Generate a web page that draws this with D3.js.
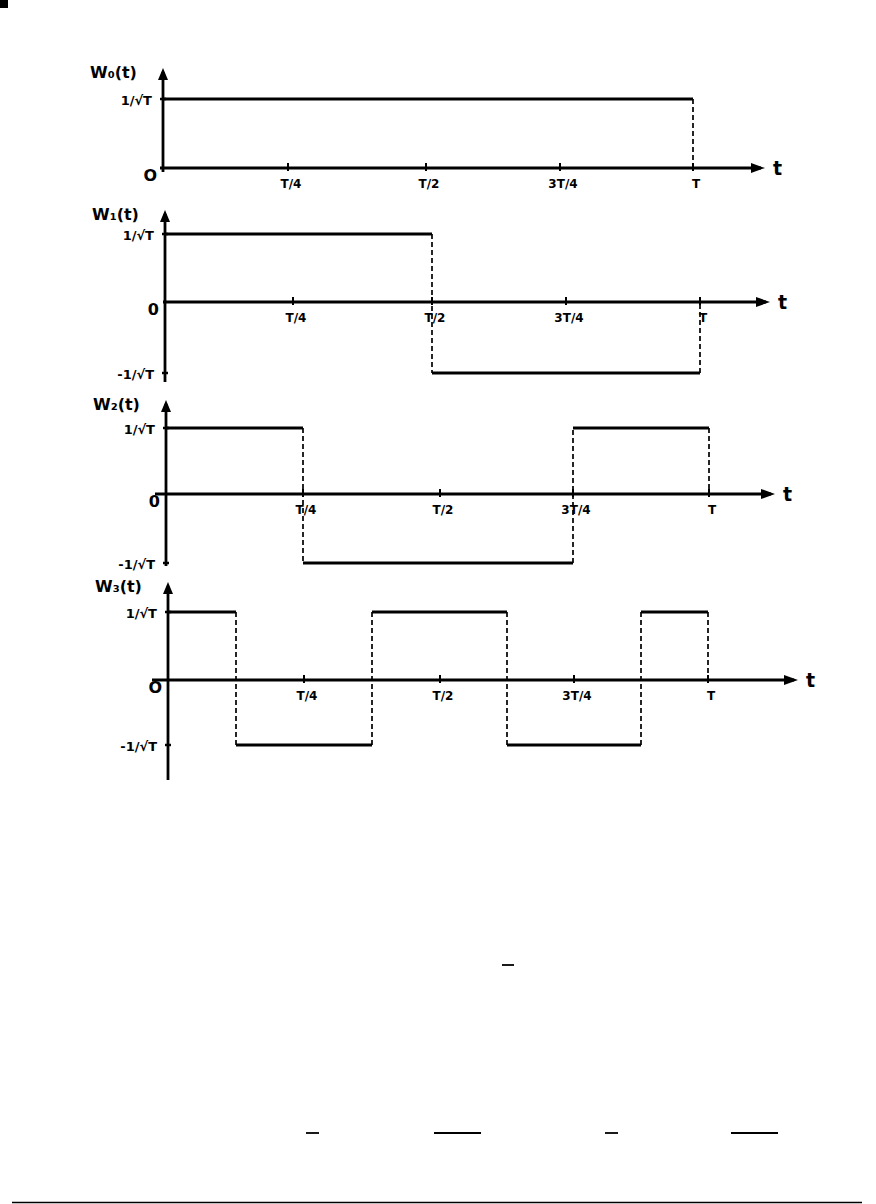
<!DOCTYPE html>
<html>
<head>
<meta charset="utf-8">
<script src="https://cdn.jsdelivr.net/npm/d3@7"></script>
<style>
  body { margin: 0; background: #fff; }
  svg text { font-family: "DejaVu Sans", sans-serif; font-weight: bold; fill: #000; }
</style>
</head>
<body>
<div id="chart"></div>
<script>
// Walsh functions W0..W3 over one period T
const names = ["W\u2080(t)", "W\u2081(t)", "W\u2082(t)", "W\u2083(t)"];
const w0 = [1];
const w1 = [1, -1];
const w2 = [1, -1, -1, 1];
const w3 = [1, -1, -1, 1, 1, -1, -1, 1];
const tickVals = [0.25, 0.5, 0.75, 1];
const tickLabels = ["T/4", "T/2", "3T/4", "T"];
const levelLabels = ["1/\u221AT", "-1/\u221AT"];
const originLabels = ["O", "0", "0", "O"];

const W = 876, H = 1204;

// hand-drawn panel geometry (pixel layout of each little plot)
let panels = [
  {wave: w0, xr: [163, 288, 426, 560, 693], yr: [237, 168, 99],  top: 68,  bot: 172, xs: 160, xe: 765, neg: false},
  {wave: w1, xr: [165, 293, 432, 566, 700], yr: [373, 302, 234], top: 210, bot: 382, xs: 163, xe: 770, neg: true},
  {wave: w2, xr: [166, 303, 440, 573, 709], yr: [563, 494, 428], top: 400, bot: 566, xs: 155, xe: 775, neg: true},
  {wave: w3, xr: [168, 304, 440, 574, 708], yr: [745, 680, 612], top: 582, bot: 780, xs: 152, xe: 798, neg: true}
];

let svg = d3.select("#chart")
  .append("svg")
  .attr("width", W)
  .attr("height", H);

svg.append("rect").attr("x", 0).attr("y", 0).attr("width", 8).attr("height", 8).attr("fill", "#000");

panels.forEach(function(p, k) {
  let x = d3.scaleLinear().domain([0, 0.25, 0.5, 0.75, 1]).range(p.xr);
  let y = d3.scaleLinear().domain([-1, 0, 1]).range(p.yr);
  let g = svg.append("g");
  let x0 = x(0), yz = y(0);

  // y axis with arrow
  g.append("line").attr("x1", x0).attr("x2", x0).attr("y1", p.top + 4).attr("y2", p.bot)
    .attr("stroke", "#000").attr("stroke-width", 2.8);
  g.append("path").attr("d", `M${x0},${p.top} L${x0 - 5},${p.top + 12} L${x0 + 5},${p.top + 12} Z`).attr("fill", "#000");

  // x axis with arrow
  g.append("line").attr("x1", p.xs).attr("x2", p.xe - 4).attr("y1", yz).attr("y2", yz)
    .attr("stroke", "#000").attr("stroke-width", 2.8);
  g.append("path").attr("d", `M${p.xe},${yz} L${p.xe - 14},${yz - 5} L${p.xe - 14},${yz + 5} Z`).attr("fill", "#000");
  g.append("text").attr("x", p.xe + 8).attr("y", yz + 7).style("font-size", "19px").text("t");

  // x ticks
  g.selectAll(".tk").data(tickVals).enter().append("line")
    .attr("x1", d => x(d)).attr("x2", d => x(d))
    .attr("y1", yz - 5).attr("y2", yz + 3)
    .attr("stroke", "#000").attr("stroke-width", 2);
  g.selectAll(".tl").data(tickVals).enter().append("text")
    .attr("x", d => x(d) + 3).attr("y", yz + 20)
    .attr("text-anchor", "middle").style("font-size", "12px")
    .text((d, i) => tickLabels[i]);

  // y level ticks + labels
  let lv = p.neg ? [1, -1] : [1];
  g.selectAll(".yt").data(lv).enter().append("line")
    .attr("x1", x0 - 3).attr("x2", x0 + 3)
    .attr("y1", d => y(d)).attr("y2", d => y(d))
    .attr("stroke", "#000").attr("stroke-width", 2.5);
  g.selectAll(".yl").data(lv).enter().append("text")
    .attr("x", x0 - 11).attr("y", d => y(d) + 6)
    .attr("text-anchor", "end").style("font-size", "13px")
    .text(d => d > 0 ? levelLabels[0] : levelLabels[1]);

  g.append("text").attr("x", x0 - 6).attr("y", yz + 13).attr("text-anchor", "end")
    .style("font-size", "16px").text(originLabels[k]);
  g.append("text").attr("x", x0 - 73).attr("y", p.top + 10)
    .style("font-size", "16px").text(names[k]);

  // signal: solid levels, dashed jumps
  let n = p.wave.length;
  g.selectAll(".lv").data(p.wave).enter().append("line")
    .attr("x1", (d, i) => x(i / n)).attr("x2", (d, i) => x((i + 1) / n))
    .attr("y1", d => y(d)).attr("y2", d => y(d))
    .attr("stroke", "#000").attr("stroke-width", 2.8);

  let jumps = [];
  for (let i = 1; i < n; i++) {
    if (p.wave[i] !== p.wave[i - 1]) jumps.push({t: i / n, a: p.wave[i - 1], b: p.wave[i]});
  }
  jumps.push({t: 1, a: p.wave[n - 1], b: 0});
  g.selectAll(".jp").data(jumps).enter().append("line")
    .attr("x1", d => x(d.t)).attr("x2", d => x(d.t))
    .attr("y1", d => y(d.a)).attr("y2", d => y(d.b))
    .attr("stroke", "#000").attr("stroke-width", 1.7)
    .attr("stroke-dasharray", "5,3");
});

// leftover marks from the rest of the page
let bars = [[502, 514, 965], [306, 319, 1133], [434, 481, 1133], [605, 618, 1133], [731, 778, 1133]];
svg.selectAll(".fb").data(bars).enter().append("line")
  .attr("x1", d => d[0]).attr("x2", d => d[1]).attr("y1", d => d[2]).attr("y2", d => d[2])
  .attr("stroke", "#000").attr("stroke-width", 1.8);
svg.append("line").attr("x1", 12).attr("x2", 862).attr("y1", 1202.5).attr("y2", 1202.5)
  .attr("stroke", "#000").attr("stroke-width", 1.5);
</script>
</body>
</html>
